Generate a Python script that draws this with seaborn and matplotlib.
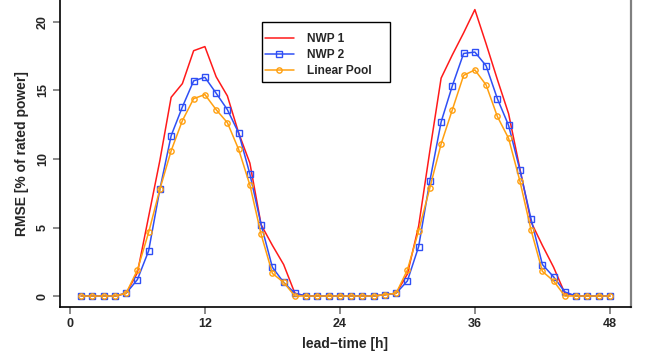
import matplotlib
matplotlib.use("Agg")
import matplotlib.pyplot as plt
import matplotlib.patches as mpatches
import seaborn as sns
import pandas as pd
import numpy as np

hours = list(range(1, 49))
nwp1 = [0, 0, 0, 0, 0.2, 1.7, 5.8, 9.9, 14.5, 15.5, 17.9, 18.2,
        16.0, 14.6, 11.9, 9.7, 5.2, 3.7, 2.3, 0.2, 0, 0, 0, 0,
        0, 0, 0, 0.1, 0.2, 1.6, 5.1, 10.6, 15.9, 17.6, 19.2, 20.9,
        18.4, 15.8, 13.3, 9.3, 5.4, 3.7, 2.1, 0.2, 0, 0, 0, 0]
nwp2 = [0, 0, 0, 0, 0.2, 1.2, 3.3, 7.8, 11.7, 13.8, 15.7, 15.96,
        14.8, 13.6, 11.9, 8.9, 5.2, 2.1, 1.0, 0.2, 0, 0, 0, 0,
        0, 0, 0, 0.1, 0.2, 1.1, 3.6, 8.4, 12.7, 15.35, 17.7, 17.8,
        16.8, 14.4, 12.45, 9.2, 5.6, 2.3, 1.4, 0.3, 0, 0, 0, 0]
pool = [0, 0, 0, 0, 0.2, 1.9, 4.65, 7.8, 10.6, 12.8, 14.4, 14.7,
        13.6, 12.65, 10.7, 8.1, 4.5, 1.65, 1.0, 0.0, 0, 0, 0, 0,
        0, 0, 0, 0.1, 0.2, 1.9, 4.75, 7.9, 11.1, 13.6, 16.1, 16.5,
        15.4, 13.1, 11.5, 8.4, 4.8, 1.8, 1.1, 0.0, 0, 0, 0, 0]
series_names = ["NWP 1", "NWP 2", "Linear Pool"]
xticks = [0, 12, 24, 36, 48]
yticks = [0, 5, 10, 15, 20]

sns.set_theme(style="white")
plt.rcParams['font.family'] = ['Liberation Sans', 'DejaVu Sans']

df = pd.DataFrame({"h": hours, "NWP 1": nwp1, "NWP 2": nwp2, "Linear Pool": pool})

W, H = 646, 351
fig = plt.figure(figsize=(6.46, 3.51), dpi=100)
ax = fig.add_axes([60/W, 44/H, 571/W, 307/H])

sns.lineplot(data=df, x="h", y="NWP 1", ax=ax, color="#ff1a1a", lw=1.1,
             label=series_names[0])
sns.lineplot(data=df, x="h", y="NWP 2", ax=ax, color="#2f4ff5", lw=1.1,
             marker="s", markersize=3.8, markerfacecolor="none",
             markeredgecolor="#2f4ff5", markeredgewidth=1.0, label=series_names[1])
sns.lineplot(data=df, x="h", y="Linear Pool", ax=ax, color="#ffa010", lw=1.1,
             marker="o", markersize=3.8, markerfacecolor="none",
             markeredgecolor="#ffa010", markeredgewidth=1.0, label=series_names[2])

ax.set_xlim(-0.88, 49.88)
ax.set_ylim(-0.8, 21.6)
ax.set_xticks(xticks)
ax.set_yticks(yticks)
ax.set_xticklabels([str(t) for t in xticks], fontsize=9, fontweight="bold")
ax.set_yticklabels([str(t) for t in yticks], fontsize=9, fontweight="bold",
                   rotation=90, va="center")
ax.tick_params(axis="both", which="both", length=5, width=1.2, color="#777777",
               direction="out", bottom=True, left=True, pad=3)
ax.set_xlabel("lead\u2212time [h]", fontsize=10, fontweight="bold", labelpad=5)
ax.set_ylabel("RMSE [% of rated power]", fontsize=10, fontweight="bold", labelpad=6)

for s in ["left", "bottom"]:
    ax.spines[s].set_color("black")
    ax.spines[s].set_linewidth(1.2)
ax.spines["right"].set_color("#808080")
ax.spines["right"].set_linewidth(1.6)
ax.spines["top"].set_visible(False)

# legend frame (R-style, asymmetric padding)
frame = mpatches.Rectangle((262/W, (H-82)/H), 128/W, 60/H, transform=fig.transFigure,
                           facecolor="white", edgecolor="black", lw=1.0,
                           clip_on=False, zorder=4)
ax.add_patch(frame)

leg = ax.legend(loc="upper left", bbox_to_anchor=(265/W, (H-33)/H),
                bbox_transform=fig.transFigure,
                frameon=False, prop={"size": 8.6, "weight": "bold"},
                handlelength=2.4, borderpad=0, labelspacing=0.33,
                handletextpad=1.15, borderaxespad=0)
leg.set_zorder(5)

fig.savefig("out.png", dpi=100)
